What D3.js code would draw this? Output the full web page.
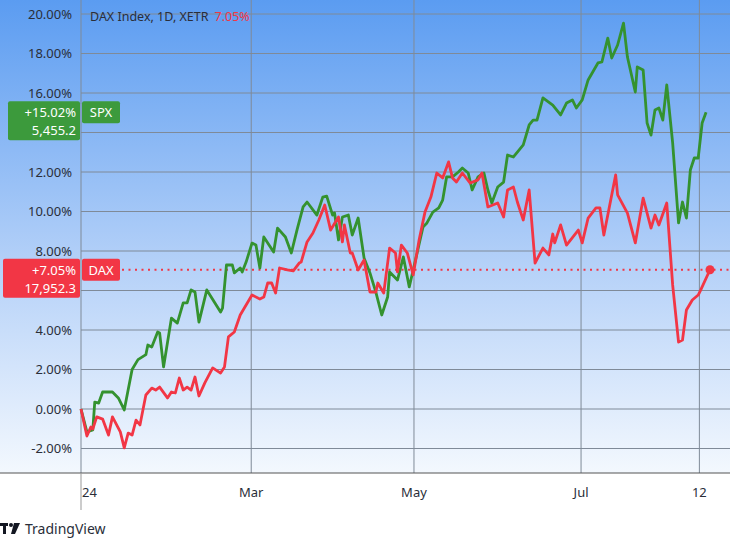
<!DOCTYPE html>
<html>
<head>
<meta charset="utf-8">
<script src="https://cdn.jsdelivr.net/npm/d3@7.9.0/dist/d3.min.js"></script>
<style>
  body { margin: 0; background: #fff; }
  svg { display: block; font-family: "Noto Sans", "DejaVu Sans", sans-serif; }
</style>
</head>
<body>
<svg id="chart" width="730" height="540"></svg>
<script>
// trading-day index since Jan 2, 2024 and % change
const spxDay = [0,1.5,3,3.5,4.5,5.5,8,9.5,11,13,14.5,16.5,17,18,19.5,20,21,23,24.5,26,27,28,29,30,32,35.5,36,37,38.5,39,40.5,41,42,43.5,44.5,45.5,46.5,49,50,52,53.5,55,56.5,57.5,60,61.5,62.5,64,64.5,65.5,66.5,68,69,70.5,72,73.5,75,76.5,78,78.5,80.5,82,83.5,85.5,87,88,89.5,91,92,93,94.5,96,97,98.5,99.5,101,102.5,103.5,104.5,106,107.5,108.5,110,111,112.5,114,115,116,117.5,120,122,123.5,125,126,127.5,129,131.5,132.5,134,135,136.5,138,139,141,141.5,143,144,145,146,147,148,149,150.5,152,153,154,155,156,157,158,159];
const spxPct = [0,-1.16,-1.06,0.35,0.3,0.86,0.86,0.56,-0.05,2.0,2.5,2.75,3.24,3.14,3.9,3.85,2.13,4.6,4.35,5.37,5.37,6.03,5.92,4.4,6.03,4.91,5.11,7.29,7.29,6.89,7.14,6.94,7.44,8.4,8.3,7.14,8.71,7.95,9.16,8.71,7.9,9.11,10.23,10.48,9.82,10.73,10.78,9.82,9.92,8.56,9.72,9.82,8.81,9.67,7.65,6.89,5.92,4.76,5.67,6.94,6.53,7.7,6.18,7.9,9.22,9.42,9.97,10.18,10.58,11.75,11.75,12.0,12.2,11.95,11.09,11.75,11.95,11.09,10.43,11.24,11.49,12.86,12.76,13.01,13.37,14.38,14.63,14.63,15.75,15.39,14.89,15.49,15.65,15.24,15.65,16.66,17.52,17.57,18.78,17.77,18.43,19.54,17.82,16.05,17.32,17.16,14.48,13.87,15.14,15.24,14.63,16.41,13.47,9.42,10.48,9.67,12.1,12.71,12.71,14.48,15.02];

const daxDay = [0,1.5,2.5,3,4,5.5,7,8,10,11,12,13,14,15,16.5,18,19,20,22,23,24,25,26,27,28,29,30,31.5,33.5,35.5,36.5,37.5,39,40.5,43.5,45.5,46.5,47.5,48.5,49.5,50.5,52.5,54,55.5,56,57.5,59,60.5,62,63.5,65.5,66.5,67,68.5,69,70.5,72,73.5,75,75.5,77,78.5,80,80.5,81.5,83,84.5,86,87.5,89,90.5,92,93.5,94.5,95.5,97,99,101,102,103.5,106,107.5,108.5,110,111,112.5,114,115.5,117.5,119,120,120.5,122,123.5,126.5,127.5,129,131,132,133,136,136.5,139,141,143,145,146,147,149,150.5,152,153,154,155.5,157,157.5,160];
const daxPct = [0,-1.37,-0.91,-1.01,-0.4,-0.51,-1.32,-0.4,-1.16,-1.97,-1.22,-1.32,-0.56,-0.81,0.71,1.06,0.96,1.11,0.56,0.86,0.81,1.57,0.96,1.11,0.96,1.62,0.66,1.32,2.08,1.82,2.13,3.65,3.9,4.76,5.77,5.57,5.67,6.38,6.38,5.87,7.14,7.04,6.99,7.39,7.44,8.46,8.91,9.57,10.33,9.06,9.72,8.46,9.32,7.9,7.9,7.04,7.54,5.92,5.92,6.38,5.87,8.15,7.9,6.94,8.3,7.9,6.79,8.56,9.97,10.73,11.95,11.7,12.51,11.7,11.49,11.95,11.44,11.6,11.95,10.23,10.43,9.72,11.09,11.24,10.48,9.57,11.09,7.39,8.15,7.8,8.86,8.41,9.32,8.3,9.06,8.41,9.67,10.18,10.18,8.81,11.85,10.84,9.92,8.41,10.68,9.16,9.82,9.32,10.43,6.28,3.39,3.49,5.01,5.52,5.77,5.97,7.05];

const yTicks = [-2,0,2,4,6,8,10,12,14,16,18,20];
const yLabelTicks = [-2,0,2,4,8,10,12,16,18,20]; // 6 and 14 sit under the value tags
const xTickDays = [0, 43.3, 84.7, 127.2, 157.3];
const xTickLabels = ['24', 'Mar', 'May', 'Jul', '12'];

const spxLast = { pct: '+15.02%', price: '5,455.2', name: 'SPX', value: 15.02 };
const daxLast = { pct: '+7.05%', price: '17,952.3', name: 'DAX', value: 7.05 };

const svg = d3.select('#chart');
const plotLeft = 81, plotRight = 730, plotBottom = 473;

const x = d3.scaleLinear().domain([0, 160]).range([81, 710]);
const y = d3.scaleLinear().domain([0, 20]).range([409, 14]);

const grad = svg.append('defs').append('linearGradient')
  .attr('id', 'bg').attr('x1', 0).attr('y1', 0).attr('x2', 0).attr('y2', 1);
grad.append('stop').attr('offset', '0%').attr('stop-color', '#5b9cf1');
grad.append('stop').attr('offset', '55%').attr('stop-color', '#b3d0f8');
grad.append('stop').attr('offset', '100%').attr('stop-color', '#f3f8fe');

svg.append('rect').attr('x', 0).attr('y', 0).attr('width', 730).attr('height', plotBottom)
  .attr('fill', 'url(#bg)');

// grid
svg.append('g').selectAll('line').data(yTicks).join('line')
  .attr('x1', plotLeft).attr('x2', plotRight)
  .attr('y1', d => y(d)).attr('y2', d => y(d))
  .attr('stroke', '#7f8a98').attr('stroke-width', 1);
svg.append('g').selectAll('line').data(xTickDays).join('line')
  .attr('x1', d => x(d)).attr('x2', d => x(d))
  .attr('y1', 0).attr('y2', plotBottom)
  .attr('stroke', '#7f8a98').attr('stroke-width', 1);

// y labels
svg.append('g').selectAll('text').data(yLabelTicks).join('text')
  .attr('x', 72).attr('y', d => y(d) + 4.5)
  .attr('text-anchor', 'end').attr('font-size', 13).attr('fill', '#2a2e39')
  .text(d => d.toFixed(2) + '%');

// x axis
svg.append('line').attr('x1', 0).attr('x2', 730).attr('y1', plotBottom).attr('y2', plotBottom)
  .attr('stroke', '#555').attr('stroke-width', 1.2);
svg.append('line').attr('x1', x(0)).attr('x2', x(0)).attr('y1', plotBottom).attr('y2', 510)
  .attr('stroke', '#999');
svg.append('g').selectAll('text').data(xTickDays).join('text')
  .attr('x', (d, i) => i === 0 ? x(d) + 1 : x(d))
  .attr('y', 497)
  .attr('text-anchor', (d, i) => i === 0 ? 'start' : 'middle')
  .attr('font-size', 13).attr('fill', '#2a2e39')
  .text((d, i) => xTickLabels[i]);

// dotted last-value line
svg.append('line').attr('x1', 122).attr('x2', 730)
  .attr('y1', y(daxLast.value)).attr('y2', y(daxLast.value))
  .attr('stroke', '#f23645').attr('stroke-width', 2.2).attr('stroke-dasharray', '2 4.5');

const line = d3.line().x(d => x(d[0])).y(d => y(d[1]));
svg.append('path').datum(d3.zip(spxDay, spxPct)).attr('d', line)
  .attr('fill', 'none').attr('stroke', '#34922f').attr('stroke-width', 2.8).attr('stroke-linejoin', 'round');
svg.append('path').datum(d3.zip(daxDay, daxPct)).attr('d', line)
  .attr('fill', 'none').attr('stroke', '#f23645').attr('stroke-width', 2.8).attr('stroke-linejoin', 'round');
svg.append('circle').attr('cx', x(daxDay[daxDay.length - 1])).attr('cy', y(daxLast.value))
  .attr('r', 4.5).attr('fill', '#f23645');

// title
const title = svg.append('text').attr('x', 90).attr('y', 21).attr('font-size', 12.5).attr('fill', '#2a2e39');
title.append('tspan').text('DAX Index, 1D, XETR');
title.append('tspan').attr('dx', 6).attr('fill', '#f23645').text('7.05%');

// last value labels
function label(info, color, boxX) {
  const cy = y(info.value);
  const top = cy - 11;
  svg.append('rect').attr('x', boxX).attr('y', top).attr('width', 80 - boxX).attr('height', 39)
    .attr('rx', 2).attr('fill', color);
  svg.append('text').attr('x', 76).attr('y', cy + 5).attr('text-anchor', 'end')
    .attr('font-size', 13).attr('fill', '#fff').text(info.pct);
  svg.append('text').attr('x', 76).attr('y', cy + 23).attr('text-anchor', 'end')
    .attr('font-size', 13).attr('fill', '#fff').text(info.price);
  svg.append('rect').attr('x', 82).attr('y', top).attr('width', 38).attr('height', 22)
    .attr('rx', 2).attr('fill', color);
  svg.append('text').attr('x', 101).attr('y', cy + 5).attr('text-anchor', 'middle')
    .attr('font-size', 13).attr('fill', '#fff').text(info.name);
}
label(spxLast, '#3c9a3c', 8);
label(daxLast, '#f23645', 3);

// footer logo + name
const logo = svg.append('g').attr('fill', '#131722');
logo.append('rect').attr('x', 0).attr('y', 523).attr('width', 8).attr('height', 3);
logo.append('rect').attr('x', 3).attr('y', 523).attr('width', 3).attr('height', 11);
logo.append('circle').attr('cx', 11).attr('cy', 525).attr('r', 2);
logo.append('path').attr('d', 'M14,523 L20,523 L15,534 L11,534 Z');
svg.append('text').attr('x', 25).attr('y', 534).attr('font-size', 14).attr('fill', '#2a2e39')
  .text('TradingView');
</script>
</body>
</html>
